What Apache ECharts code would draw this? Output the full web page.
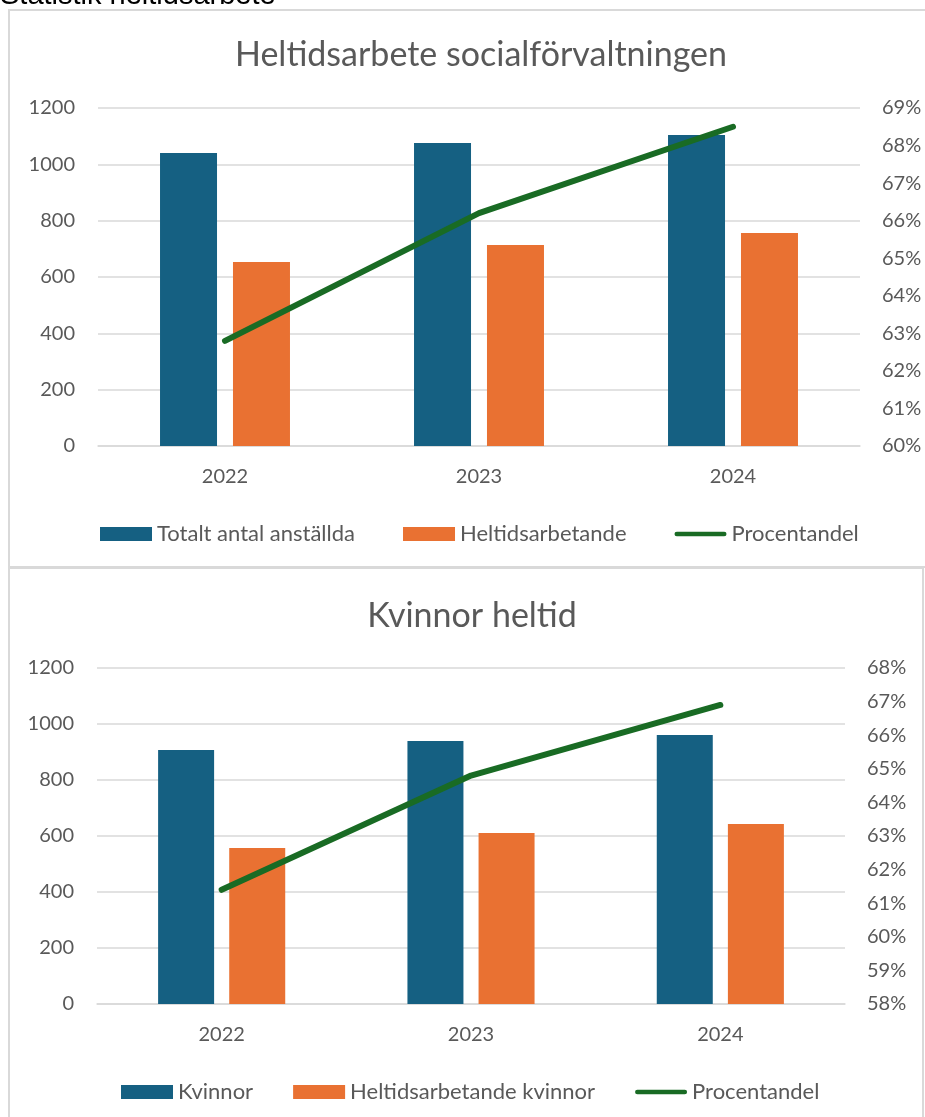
<!DOCTYPE html>
<html>
<head>
<meta charset="utf-8">
<script src="https://cdn.jsdelivr.net/npm/echarts@6/dist/echarts.min.js"></script>
<style>
html,body{margin:0;padding:0;background:#fff;}
#c{width:925px;height:1117px;}
</style>
</head>
<body>
<div id="c"></div>
<script>
// ---- data ----
const years = ['2022', '2023', '2024'];
// Chart 1
const totaltAntal = [1040, 1076, 1104];
const heltidsarbetande = [653, 714, 756];
const procentandel1 = [62.8, 66.2, 68.5];
// Chart 2
const kvinnor = [907, 939, 961];
const heltidsKvinnor = [557, 611, 643];
const procentandel2 = [61.4, 64.8, 66.9];

const title1 = 'Heltidsarbete socialförvaltningen';
const title2 = 'Kvinnor heltid';
const header = 'Statistik heltidsarbete';

const FONT = 'Lato';
const TXT = '#595959';
const GRID = '#D9D9D9';
const BLUE = '#156082';
const ORANGE = '#E97132';
const GREEN = '#196B24';
const LINE_ICON = 'path://M2.5,0 L54.5,0 A2.5,2.5 0 0 1 54.5,5 L2.5,5 A2.5,2.5 0 0 1 2.5,0 Z';

const chart = echarts.init(document.getElementById('c'), null, {renderer: 'canvas'});

function xAxis(gi) {
  return {
    type: 'category', gridIndex: gi, data: years,
    axisLine: {lineStyle: {color: GRID, width: 1.5}},
    axisTick: {show: false},
    axisLabel: {color: TXT, fontSize: 20, fontFamily: FONT, margin: 21}
  };
}
function yLeft(gi) {
  return {
    type: 'value', gridIndex: gi, min: 0, max: 1200, interval: 200,
    axisLine: {show: false}, axisTick: {show: false},
    splitLine: {lineStyle: {color: GRID, width: 1.5}},
    axisLabel: {color: TXT, fontSize: 20, fontFamily: FONT, margin: 23,
                formatter: function (v) { return String(v); }}
  };
}
function yRight(gi, mn, mx) {
  return {
    type: 'value', gridIndex: gi, position: 'right', min: mn, max: mx, interval: 1,
    axisLine: {show: false}, axisTick: {show: false}, splitLine: {show: false},
    axisLabel: {color: TXT, fontSize: 20, fontFamily: FONT, margin: 22, formatter: '{value}%'}
  };
}

const option = {
  backgroundColor: '#fff',
  animation: false,
  title: [
    {text: title1, left: 476, top: 33, textAlign: 'center',
     textStyle: {color: TXT, fontSize: 34, fontWeight: 'normal', fontFamily: FONT}},
    {text: title2, left: 467, top: 594, textAlign: 'center',
     textStyle: {color: TXT, fontSize: 34, fontWeight: 'normal', fontFamily: FONT}}
  ],
  legend: [
    {left: 95, top: 518, itemWidth: 52, itemHeight: 14, itemGap: 48,
     data: [{name: 'Totalt antal anställda', icon: 'rect'}, {name: 'Heltidsarbetande', icon: 'rect'}, {name: 'Procentandel', icon: LINE_ICON}],
     textStyle: {color: TXT, fontSize: 22, fontFamily: FONT}},
    {left: 116, top: 1076, itemWidth: 52, itemHeight: 14, itemGap: 40,
     data: [{name: 'Kvinnor', icon: 'rect'}, {name: 'Heltidsarbetande kvinnor', icon: 'rect'}, {name: 'Procentandel ', icon: LINE_ICON}],
     textStyle: {color: TXT, fontSize: 22, fontFamily: FONT}}
  ],
  grid: [
    {left: 98, right: 65, top: 108, height: 338},
    {left: 97, right: 80, top: 668, height: 336}
  ],
  xAxis: [xAxis(0), xAxis(1)],
  yAxis: [yLeft(0), yRight(0, 60, 69), yLeft(1), yRight(1, 58, 68)],
  graphic: [
    {type: 'rect', shape: {x: 9, y: 10, width: 930, height: 557},
     style: {fill: null, stroke: GRID, lineWidth: 2}, silent: true},
    {type: 'rect', shape: {x: 9, y: 568, width: 914, height: 570},
     style: {fill: null, stroke: GRID, lineWidth: 2}, silent: true},
    {type: 'text', x: 0, y: 10,
     style: {text: header, font: '29px "Liberation Sans", Arial', fill: '#000', verticalAlign: 'bottom'}}
  ],
  series: [
    {name: 'Totalt antal anställda', type: 'bar', xAxisIndex: 0, yAxisIndex: 0,
     data: totaltAntal, barWidth: 57, barGap: '28%', itemStyle: {color: BLUE}},
    {name: 'Heltidsarbetande', type: 'bar', xAxisIndex: 0, yAxisIndex: 0,
     data: heltidsarbetande, barWidth: 57, barGap: '28%', itemStyle: {color: ORANGE}},
    {name: 'Procentandel', type: 'line', xAxisIndex: 0, yAxisIndex: 1,
     data: procentandel1, symbol: 'none', showSymbol: false, z: 5,
     lineStyle: {color: GREEN, width: 6, cap: 'round'}, itemStyle: {color: GREEN}},
    {name: 'Kvinnor', type: 'bar', xAxisIndex: 1, yAxisIndex: 2,
     data: kvinnor, barWidth: 56, barGap: '27%', itemStyle: {color: BLUE}},
    {name: 'Heltidsarbetande kvinnor', type: 'bar', xAxisIndex: 1, yAxisIndex: 2,
     data: heltidsKvinnor, barWidth: 56, barGap: '27%', itemStyle: {color: ORANGE}},
    {name: 'Procentandel ', type: 'line', xAxisIndex: 1, yAxisIndex: 3,
     data: procentandel2, symbol: 'none', showSymbol: false, z: 5,
     lineStyle: {color: GREEN, width: 6, cap: 'round'}, itemStyle: {color: GREEN}}
  ]
};
chart.setOption(option);
</script>
</body>
</html>
